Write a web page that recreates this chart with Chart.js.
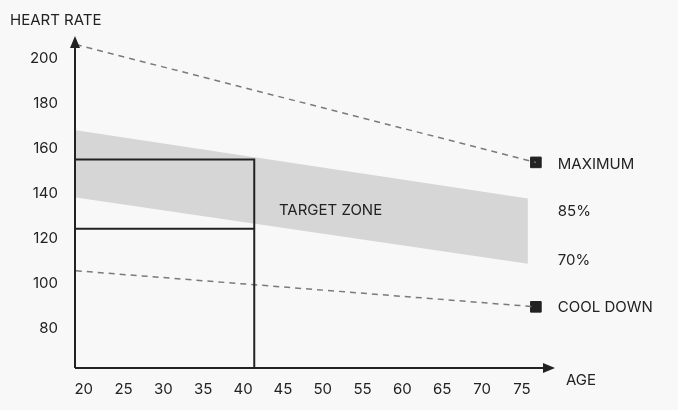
<!DOCTYPE html>
<html>
<head>
<meta charset="utf-8">
<script src="https://cdn.jsdelivr.net/npm/chart.js@4"></script>
<style>
  body { margin: 0; background: #f8f8f8; }
  canvas { display: block; }
</style>
</head>
<body>
<canvas id="chart" width="678" height="410"></canvas>
<script>
// values
const ageTicks = [20, 25, 30, 35, 40, 45, 50, 55, 60, 65, 70, 75];
const rateTicks = [80, 100, 120, 140, 160, 180, 200];
const maximumLine = [{ x: 19, y: 206 }, { x: 76.75, y: 153.8 }];
const coolDownLine = [{ x: 19, y: 105.8 }, { x: 76.75, y: 89.8 }];
const zoneTop = [{ x: 19, y: 168 }, { x: 75.75, y: 137.8 }];
const zoneBottom = [{ x: 19, y: 138.2 }, { x: 75.75, y: 108.9 }];
const outerBox = [{ x: 18.9, y: 155.1 }, { x: 41.4, y: 155.1 }, { x: 41.4, y: 62.7 }];
const innerLine = [{ x: 18.9, y: 124.4 }, { x: 41.4, y: 124.4 }];
const markers = [{ x: 76.75, y: 153.8 }, { x: 76.75, y: 89.8 }];
const labels = [
  { text: "MAXIMUM", x: 79.5, y: 153 },
  { text: "85%", x: 79.5, y: 132 },
  { text: "70%", x: 79.5, y: 110.5 },
  { text: "COOL DOWN", x: 79.5, y: 89.5 },
  { text: "TARGET ZONE", x: 44.5, y: 132.5 }
];

const FONT = "15px Inter, 'Noto Sans', sans-serif";
const INK = "#222";

const annotations = {
  id: "annotations",
  afterDraw(chart) {
    const { ctx, scales: { x, y }, chartArea: a } = chart;
    ctx.save();
    ctx.strokeStyle = INK;
    ctx.fillStyle = INK;
    ctx.lineWidth = 2;
    // age-box lines
    [outerBox, innerLine].forEach(pts => {
      ctx.beginPath();
      pts.forEach((p, i) => {
        const px = x.getPixelForValue(p.x), py = y.getPixelForValue(p.y);
        i ? ctx.lineTo(px, py) : ctx.moveTo(px, py);
      });
      ctx.stroke();
    });
    // axes with arrow heads
    ctx.beginPath();
    ctx.moveTo(a.left, a.bottom);
    ctx.lineTo(a.left, a.top + 2);
    ctx.moveTo(a.left, a.bottom);
    ctx.lineTo(a.right - 2, a.bottom);
    ctx.stroke();
    ctx.beginPath();
    ctx.moveTo(a.left, a.top - 2);
    ctx.lineTo(a.left - 5, a.top + 10);
    ctx.lineTo(a.left + 5, a.top + 10);
    ctx.closePath();
    ctx.moveTo(a.right + 2, a.bottom);
    ctx.lineTo(a.right - 10, a.bottom - 5);
    ctx.lineTo(a.right - 10, a.bottom + 5);
    ctx.closePath();
    ctx.fill();

    ctx.font = FONT;
    ctx.textBaseline = "middle";
    ctx.textAlign = "left";
    labels.forEach(l => ctx.fillText(l.text, x.getPixelForValue(l.x), y.getPixelForValue(l.y)));
    ctx.fillText("HEART RATE", 10, 20);
    ctx.fillText("AGE", 566, 380);
    ctx.restore();
  }
};

const line = (data, extra) => Object.assign({
  type: "line", data, pointRadius: 0, borderColor: INK, borderWidth: 2, fill: false, tension: 0
}, extra);

new Chart(document.getElementById("chart"), {
  type: "line",
  data: {
    datasets: [
      line(zoneTop, { borderWidth: 0, borderColor: "rgba(0,0,0,0)", fill: "+1", backgroundColor: "#d6d6d6" }),
      line(zoneBottom, { borderWidth: 0, borderColor: "rgba(0,0,0,0)" }),
      line(maximumLine, { borderColor: "#7a7a7a", borderWidth: 1.5, borderDash: [6, 5] }),
      line(coolDownLine, { borderColor: "#7a7a7a", borderWidth: 1.5, borderDash: [6, 5] }),
      { type: "scatter", data: markers, pointStyle: "rect", pointRadius: 7.5, backgroundColor: INK, borderColor: INK }
    ]
  },
  options: {
    responsive: false,
    animation: false,
    layout: { padding: { top: 38, right: 125, left: 0, bottom: 0 } },
    plugins: { legend: { display: false }, tooltip: { enabled: false } },
    scales: {
      x: {
        type: "linear", min: 18.9, max: 78.9,
        afterFit: s => { s.height = 42; },
        afterBuildTicks: s => { s.ticks = ageTicks.map(v => ({ value: v })); },
        grid: { display: false, drawTicks: false },
        border: { display: false },
        ticks: { padding: 12, color: INK, font: { family: "Inter, 'Noto Sans', sans-serif", size: 15 } }
      },
      y: {
        type: "linear", min: 62.7, max: 208.9,
        afterFit: s => { s.width = 75; },
        afterBuildTicks: s => { s.ticks = rateTicks.map(v => ({ value: v })); },
        grid: { display: false, drawTicks: false },
        border: { display: false },
        ticks: { padding: 17, color: INK, font: { family: "Inter, 'Noto Sans', sans-serif", size: 15 } }
      }
    }
  },
  plugins: [annotations]
});
</script>
</body>
</html>
